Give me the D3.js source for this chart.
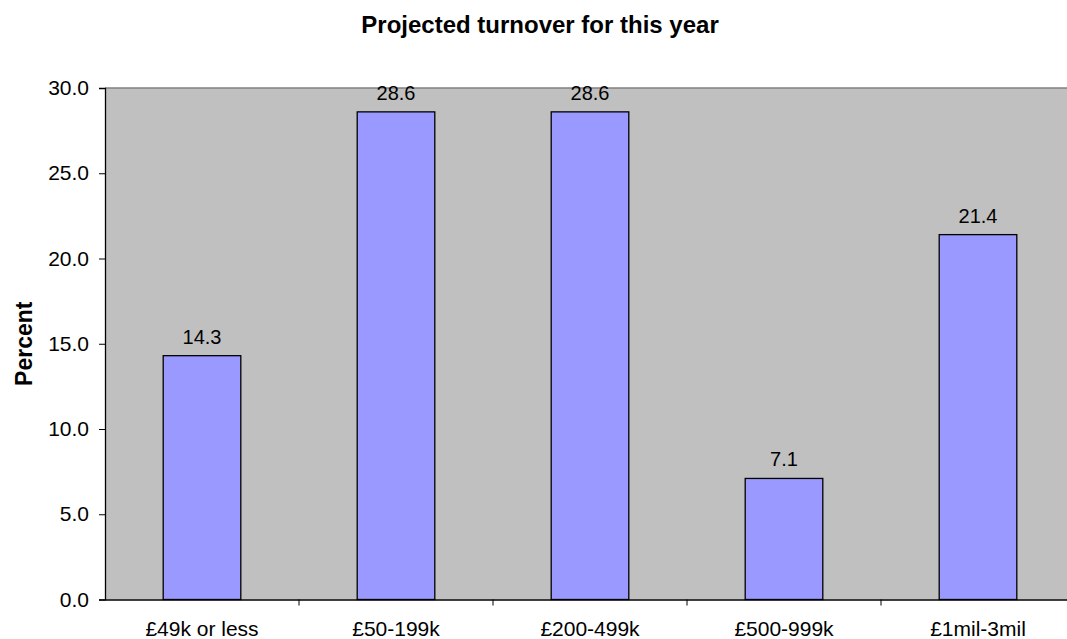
<!DOCTYPE html>
<html lang="en">
<head>
<meta charset="utf-8">
<title>Projected turnover for this year</title>
<script src="https://cdn.jsdelivr.net/npm/d3@7"></script>
<style>
  body { margin: 0; background: #fff; }
  svg { display: block; font-family: "Liberation Sans", Arial, sans-serif; }
</style>
</head>
<body>
<svg width="1067" height="639"></svg>
<script>
var categories = ["£49k or less", "£50-199k", "£200-499k", "£500-999k", "£1mil-3mil"];
var percents = [14.3, 28.6, 28.6, 7.1, 21.4];
var yTicks = [0, 5, 10, 15, 20, 25, 30];

var svg = d3.select("svg");
// plot box (right edge runs past the picture, as in the original)
var plotLeft = 105, plotTop = 88, plotBottom = 599.5, plotRight = 1075;
var fontFam = "Liberation Sans, Arial, sans-serif";

var band = d3.scaleBand().domain(categories).range([plotLeft, plotRight]);
var y = d3.scaleLinear().domain([0, 30]).range([plotBottom, plotTop]);

// plot area
svg.append("rect")
    .attr("x", plotLeft).attr("y", plotTop)
    .attr("width", plotRight - plotLeft).attr("height", plotBottom - plotTop)
    .attr("fill", "#c0c0c0");
svg.append("line")
    .attr("x1", plotLeft).attr("x2", plotRight)
    .attr("y1", plotTop).attr("y2", plotTop)
    .attr("stroke", "#808080").attr("stroke-width", 1.5);

// bars
svg.selectAll("rect.bar")
  .data(percents)
  .enter().append("rect")
    .attr("class", "bar")
    .attr("x", function(d, i) { return band(categories[i]) + band.bandwidth() * 0.3; })
    .attr("width", band.bandwidth() * 0.4)
    .attr("y", function(d) { return y(d); })
    .attr("height", function(d) { return plotBottom - y(d); })
    .attr("fill", "#9999ff")
    .attr("stroke", "#000").attr("stroke-width", 1.3);

// value labels
svg.selectAll("text.val")
  .data(percents)
  .enter().append("text")
    .attr("class", "val")
    .attr("x", function(d, i) { return band(categories[i]) + band.bandwidth() / 2; })
    .attr("y", function(d) { return y(d) - 12; })
    .attr("text-anchor", "middle")
    .attr("font-size", 20)
    .text(function(d) { return d.toFixed(1); });

// y axis
var yAxis = svg.append("g")
    .attr("transform", "translate(" + plotLeft + ",0)")
    .call(d3.axisLeft(y).tickValues(yTicks).tickSize(6).tickPadding(10).tickFormat(d3.format(".1f")));
yAxis.select(".domain").attr("stroke", "#000").attr("stroke-width", 1.3);
yAxis.selectAll("line").attr("stroke", "#000");
yAxis.selectAll("text").attr("font-size", 21).attr("fill", "#000").attr("font-family", fontFam);

// x axis
var xAxis = svg.append("g")
    .attr("transform", "translate(0," + plotBottom + ")")
    .call(d3.axisBottom(band).tickSize(0).tickPadding(22));
xAxis.select(".domain").attr("stroke", "#000").attr("stroke-width", 1.3);
xAxis.selectAll("text").attr("font-size", 21).attr("fill", "#000").attr("font-family", fontFam);
xAxis.selectAll("line.sep")
  .data(categories.slice(1))
  .enter().append("line")
    .attr("class", "sep")
    .attr("x1", function(d) { return band(d); })
    .attr("x2", function(d) { return band(d); })
    .attr("y1", 0).attr("y2", 6)
    .attr("stroke", "#000");

// title
svg.append("text")
    .attr("x", 540).attr("y", 33)
    .attr("text-anchor", "middle")
    .attr("font-size", 24).attr("font-weight", "bold")
    .text("Projected turnover for this year");

// y label
svg.append("text")
    .attr("transform", "translate(32," + ((plotTop + plotBottom) / 2) + ") rotate(-90)")
    .attr("text-anchor", "middle")
    .attr("font-size", 23).attr("font-weight", "bold")
    .text("Percent");
</script>
</body>
</html>
